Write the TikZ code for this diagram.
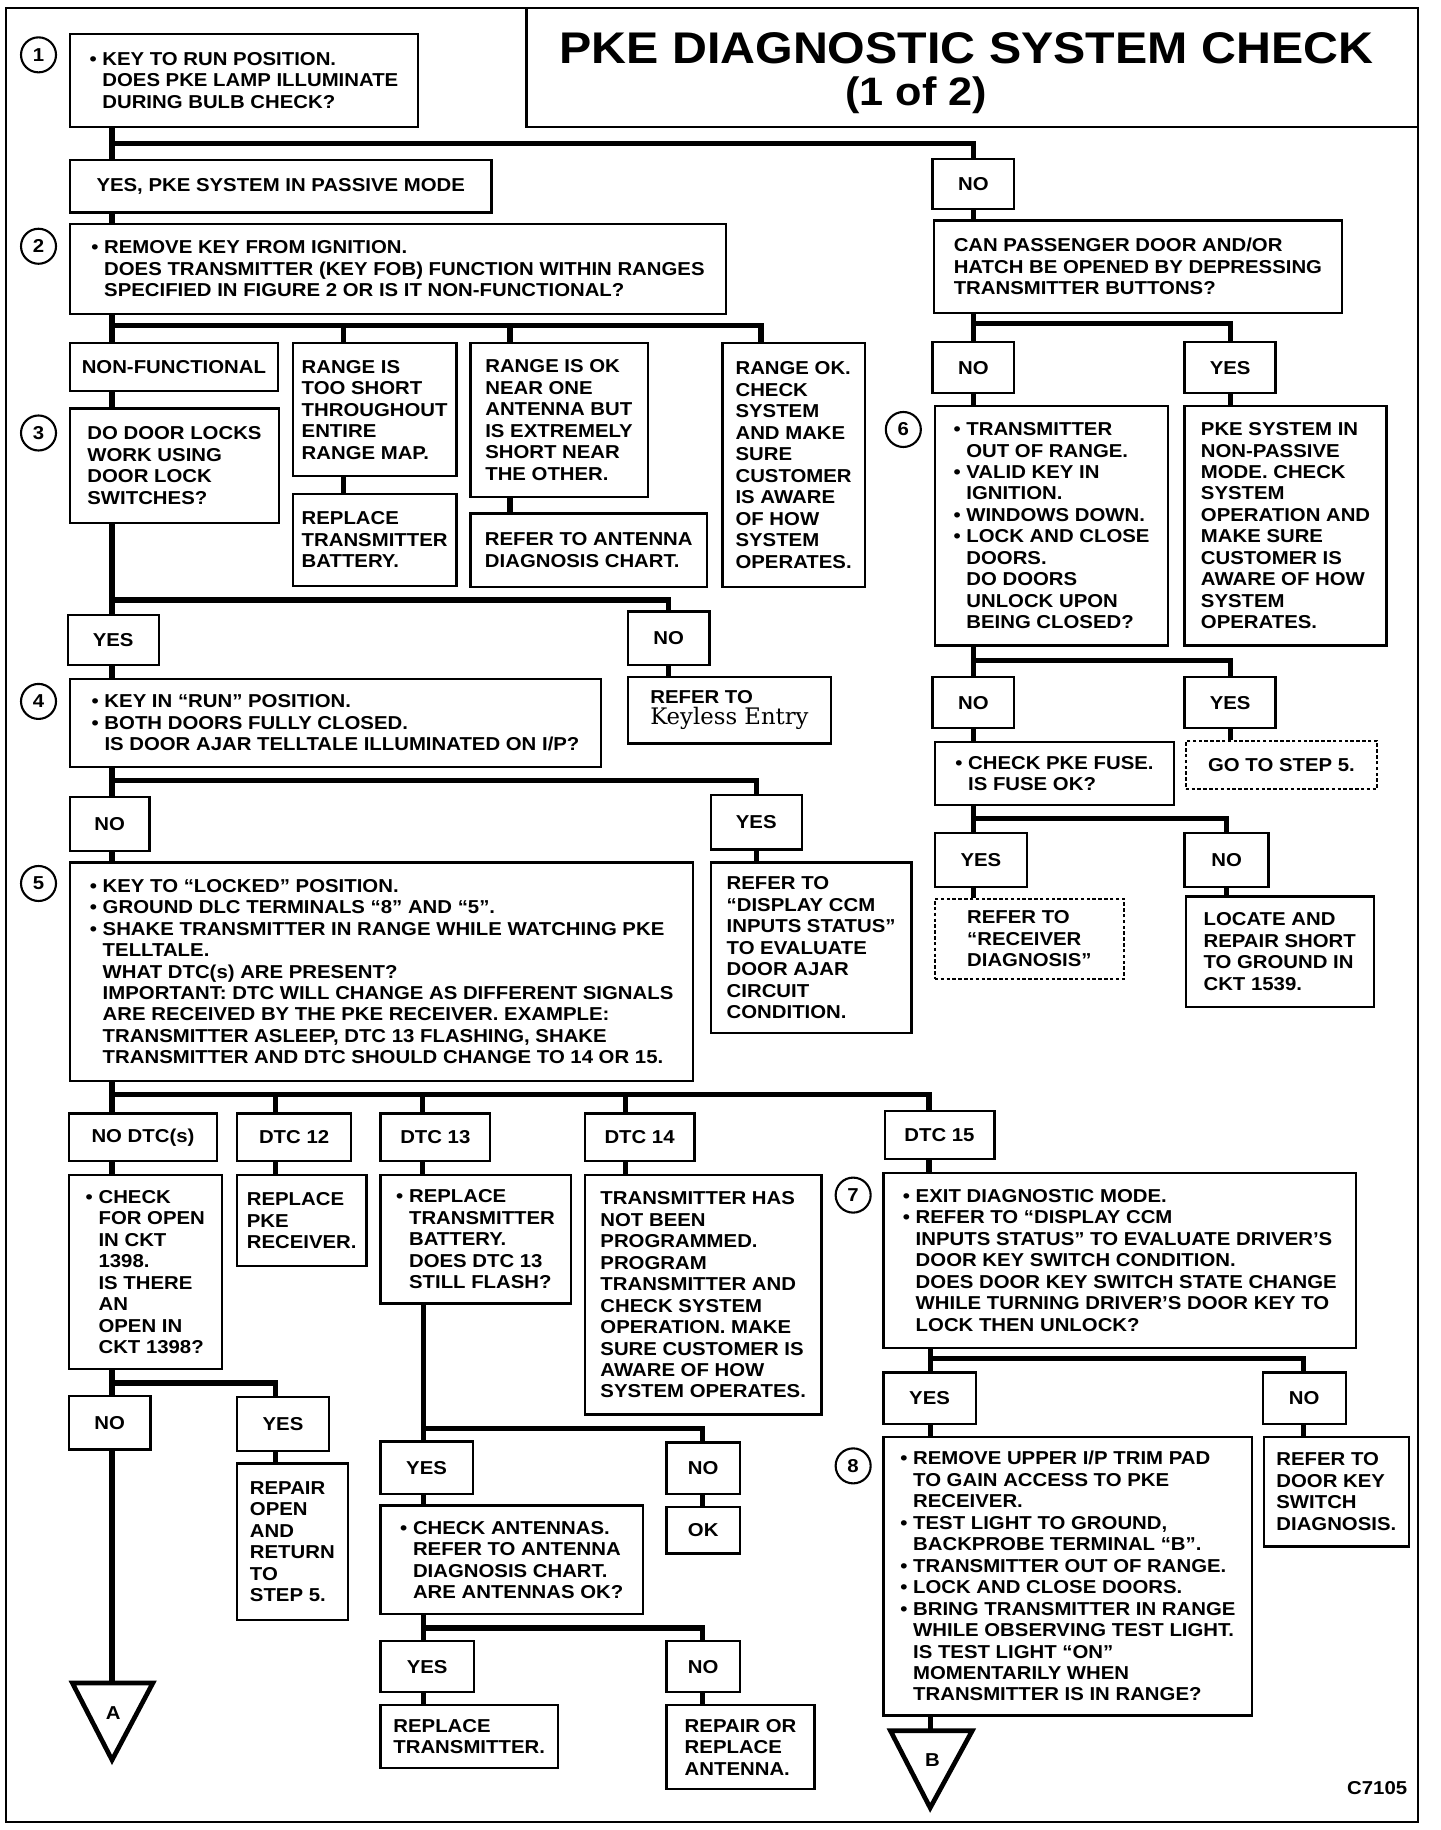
\documentclass[tikz,border=0pt]{standalone}
\usepackage{fontspec}
\setmainfont{Liberation Sans}[FakeStretch=1.09]
\newfontfamily\serifkey{DejaVu Serif}
\newcommand{\chartfont}{\fontsize{16}{18.4}\selectfont\bfseries}
\newcommand{\bul}{\makebox[11pt][l]{\textbullet}}
\newcommand{\ind}{\hspace*{11pt}}

\begin{document}
\begin{tikzpicture}[x=1pt, y=-1pt,
    box/.style={draw, line width=2pt, fill=white, align=left, inner sep=3pt, font=\chartfont},
    boxsize/.style 2 args={minimum width=#1pt, minimum height=#2pt},
    tag/.style={box, align=center},
    dashbox/.style={box, line width=1.5pt, dash pattern=on 3pt off 2pt},
    stepnum/.style={circle, draw, line width=1.8pt, minimum size=30pt, inner sep=0pt, font=\chartfont},
    link/.style={line width=4.5pt},
    tri/.style={line width=4pt, line join=miter},
    frame/.style={line width=2pt}]
\useasboundingbox (0,0) rectangle (1234,1568);

% frame and title
\draw[frame] (5,7) rectangle (1215,1561);
\draw[frame] (451,7) |- (1215,109);
\node[font=\fontsize{38}{40}\selectfont\bfseries] (title) at (828,41) {PKE DIAGNOSTIC SYSTEM CHECK};
\node[font=\fontsize{34}{36}\selectfont\bfseries] (part) at (785,82) {(1 of 2)};

% step numbers
\node[stepnum] (s1) at (33,47) {1};
\node[stepnum] (s2) at (33,211) {2};
\node[stepnum] (s3) at (33,371) {3};
\node[stepnum] (s4) at (33,601) {4};
\node[stepnum] (s5) at (33,757) {5};
\node[stepnum] (s6) at (774,368) {6};
\node[stepnum] (s7) at (731,1024) {7};
\node[stepnum] (s8) at (731,1256) {8};

% step 1 and 2
\node[box, boxsize={298}{80}] (q1) at (209,69) {\bul KEY TO RUN POSITION.\\\ind DOES PKE LAMP ILLUMINATE\\\ind DURING BULB CHECK?};
\node[tag, boxsize={361}{45}] (yespass) at (240.5,159.5) {YES, PKE SYSTEM IN PASSIVE MODE};
\node[tag, boxsize={70}{43}] (no1) at (834,157.5) {NO};
\node[box, boxsize={562}{77}] (q2) at (341,230.5) {\bul REMOVE KEY FROM IGNITION.\\\ind DOES TRANSMITTER (KEY FOB) FUNCTION WITHIN RANGES\\\ind SPECIFIED IN FIGURE 2 OR IS IT NON-FUNCTIONAL?};
\node[box, boxsize={350}{79}] (qpass) at (975,228.5) {CAN PASSENGER DOOR AND/OR\\HATCH BE OPENED BY DEPRESSING\\TRANSMITTER BUTTONS?};

\node[tag, boxsize={178}{41}] (nonfunc) at (149,314.5) {NON-FUNCTIONAL};
\node[box, boxsize={140}{114}] (rshort) at (321,351) {RANGE IS\\TOO SHORT\\THROUGHOUT\\ENTIRE\\RANGE MAP.};
\node[box, boxsize={152}{132}] (rnear) at (479,360) {RANGE IS OK\\NEAR ONE\\ANTENNA BUT\\IS EXTREMELY\\SHORT NEAR\\THE OTHER.};
\node[box, boxsize={122}{209}] (rok) at (680,398.5) {RANGE OK.\\CHECK\\SYSTEM\\AND MAKE\\SURE\\CUSTOMER\\IS AWARE\\OF HOW\\SYSTEM\\OPERATES.};
\node[box, boxsize={179}{98}] (q3) at (149.5,399) {DO DOOR LOCKS\\WORK USING\\DOOR LOCK\\SWITCHES?};
\node[box, boxsize={140}{79}] (repbat) at (321,462.5) {REPLACE\\TRANSMITTER\\BATTERY.};
\node[box, boxsize={203}{63}] (antchart) at (504.5,471.5) {REFER TO ANTENNA\\DIAGNOSIS CHART.};

% passive check column
\node[tag, boxsize={70}{44}] (no6) at (834,315) {NO};
\node[tag, boxsize={78}{44}] (yes6) at (1054,315) {YES};
\node[box, boxsize={200}{205}] (q6) at (901,450.5) {\bul TRANSMITTER\\\ind OUT OF RANGE.\\\bul VALID KEY IN\\\ind IGNITION.\\\bul WINDOWS DOWN.\\\bul LOCK AND CLOSE\\\ind DOORS.\\\ind DO DOORS\\\ind UNLOCK UPON\\\ind BEING CLOSED?};
\node[box, boxsize={173}{205}] (nonpass) at (1101.5,450.5) {PKE SYSTEM IN\\NON-PASSIVE\\MODE. CHECK\\SYSTEM\\OPERATION AND\\MAKE SURE\\CUSTOMER IS\\AWARE OF HOW\\SYSTEM\\OPERATES.};
\node[tag, boxsize={70}{44}] (nofuse) at (834,602) {NO};
\node[tag, boxsize={78}{44}] (yesfuse) at (1054,602) {YES};
\node[box, boxsize={205}{54}] (qfuse) at (903.5,663) {\bul CHECK PKE FUSE.\\\ind IS FUSE OK?};
\node[dashbox, boxsize={164}{41}] (gostep) at (1098,655.5) {GO TO STEP 5.};
\node[tag, boxsize={79}{46}] (yesok) at (840.5,737) {YES};
\node[tag, boxsize={72}{46}] (nook) at (1051,737) {NO};
\node[dashbox, boxsize={162}{69}] (recdiag) at (882,804.5) {REFER TO\\“RECEIVER\\DIAGNOSIS”};
\node[box, boxsize={161}{95}] (short) at (1096.5,815.5) {LOCATE AND\\REPAIR SHORT\\TO GROUND IN\\CKT 1539.};

% step 3 and 4
\node[tag, boxsize={78}{43}] (yes3) at (97,548.5) {YES};
\node[tag, boxsize={70}{46}] (no3) at (573,547) {NO};
\node[box, boxsize={174}{57}] (keyless) at (625,608.5) {REFER TO\\{\serifkey\mdseries\fontsize{19.5}{21}\selectfont Keyless Entry}};
\node[box, boxsize={455}{75}] (q4) at (287.5,619.5) {\bul KEY IN “RUN” POSITION.\\\bul BOTH DOORS FULLY CLOSED.\\\ind IS DOOR AJAR TELLTALE ILLUMINATED ON I/P?};
\node[tag, boxsize={68}{46}] (no4) at (94,706) {NO};
\node[tag, boxsize={78}{47}] (yes4) at (648,704.5) {YES};
\node[box, boxsize={534}{187}] (q5) at (327,832.5) {\bul KEY TO “LOCKED” POSITION.\\\bul GROUND DLC TERMINALS “8” AND “5”.\\\bul SHAKE TRANSMITTER IN RANGE WHILE WATCHING PKE\\\ind TELLTALE.\\\ind WHAT DTC(s) ARE PRESENT?\\\ind IMPORTANT: DTC WILL CHANGE AS DIFFERENT SIGNALS\\\ind ARE RECEIVED BY THE PKE RECEIVER. EXAMPLE:\\\ind TRANSMITTER ASLEEP, DTC 13 FLASHING, SHAKE\\\ind TRANSMITTER AND DTC SHOULD CHANGE TO 14 OR 15.};
\node[box, boxsize={172}{146}] (ccm) at (695,812) {REFER TO\\“DISPLAY CCM\\INPUTS STATUS”\\TO EVALUATE\\DOOR AJAR\\CIRCUIT\\CONDITION.};

% step 5 results
\node[tag, boxsize={127}{41}] (nodtc) at (122.5,974.5) {NO DTC(s)};
\node[tag, boxsize={98}{41}] (dtc12) at (252,974.5) {DTC 12};
\node[tag, boxsize={94}{41}] (dtc13) at (373,974.5) {DTC 13};
\node[tag, boxsize={94}{41}] (dtc14) at (548,974.5) {DTC 14};
\node[tag, boxsize={94}{41}] (dtc15) at (805,972.5) {DTC 15};
\node[box, boxsize={131}{166}] (ckt) at (124.5,1090) {\bul CHECK\\\ind FOR OPEN\\\ind IN CKT\\\ind 1398.\\\ind IS THERE\\\ind AN\\\ind OPEN IN\\\ind CKT 1398?};
\node[box, boxsize={111}{78}] (recv) at (258.5,1046) {REPLACE\\PKE\\RECEIVER.};
\node[box, boxsize={163}{110}] (flash) at (407.5,1062) {\bul REPLACE\\\ind TRANSMITTER\\\ind BATTERY.\\\ind DOES DTC 13\\\ind STILL FLASH?};
\node[box, boxsize={203}{205}] (prog) at (602.5,1109.5) {TRANSMITTER HAS\\NOT BEEN\\PROGRAMMED.\\PROGRAM\\TRANSMITTER AND\\CHECK SYSTEM\\OPERATION. MAKE\\SURE CUSTOMER IS\\AWARE OF HOW\\SYSTEM OPERATES.};
\node[box, boxsize={405}{150}] (q7) at (959.5,1080) {\bul EXIT DIAGNOSTIC MODE.\\\bul REFER TO “DISPLAY CCM\\\ind INPUTS STATUS” TO EVALUATE DRIVER’S\\\ind DOOR KEY SWITCH CONDITION.\\\ind DOES DOOR KEY SWITCH STATE CHANGE\\\ind WHILE TURNING DRIVER’S DOOR KEY TO\\\ind LOCK THEN UNLOCK?};

\node[tag, boxsize={70}{46}] (nockt) at (94,1219) {NO};
\node[tag, boxsize={79}{46}] (yesckt) at (242.5,1220) {YES};
\node[box, boxsize={95}{134}] (repopen) at (250.5,1321) {REPAIR\\OPEN\\AND\\RETURN\\TO\\STEP 5.};
\node[tag, boxsize={79}{45}] (yes13) at (365.5,1257.5) {YES};
\node[tag, boxsize={63}{44}] (no13) at (602.5,1258) {NO};
\node[tag, boxsize={63}{40}] (ok13) at (602.5,1311) {OK};
\node[box, boxsize={225}{93}] (ant) at (438.5,1336.5) {\bul CHECK ANTENNAS.\\\ind REFER TO ANTENNA\\\ind DIAGNOSIS CHART.\\\ind ARE ANTENNAS OK?};
\node[tag, boxsize={80}{44}] (yesant) at (366,1428) {YES};
\node[tag, boxsize={63}{44}] (noant) at (602.5,1428) {NO};
\node[box, boxsize={152}{54}] (reptx) at (402,1488) {REPLACE\\TRANSMITTER.};
\node[box, boxsize={127}{72}] (repant) at (634.5,1497) {REPAIR OR\\REPLACE\\ANTENNA.};

\node[tag, boxsize={79}{44}] (yes7) at (796.5,1198) {YES};
\node[tag, boxsize={71}{44}] (no7) at (1117.5,1198) {NO};
\node[box, boxsize={316}{239}] (q8) at (915,1350.5) {\bul REMOVE UPPER I/P TRIM PAD\\\ind TO GAIN ACCESS TO PKE\\\ind RECEIVER.\\\bul TEST LIGHT TO GROUND,\\\ind BACKPROBE TERMINAL “B”.\\\bul TRANSMITTER OUT OF RANGE.\\\bul LOCK AND CLOSE DOORS.\\\bul BRING TRANSMITTER IN RANGE\\\ind WHILE OBSERVING TEST LIGHT.\\\ind IS TEST LIGHT “ON”\\\ind MOMENTARILY WHEN\\\ind TRANSMITTER IS IN RANGE?};
\node[box, boxsize={124}{94}] (doorkey) at (1145,1278) {REFER TO\\DOOR KEY\\SWITCH\\DIAGNOSIS.};

% off-page connectors
\coordinate (triAtop) at (96,1442);
\draw[tri] (62,1442) -- (131,1442) -- (96,1508) -- cycle;
\node[font=\chartfont] (triA) at (97,1468) {A};
\coordinate (triBtop) at (797,1483);
\draw[tri] (763,1483) -- (833,1483) -- (797,1549) -- cycle;
\node[font=\chartfont] (triB) at (799,1508) {B};
\node[font=\chartfont] (code) at (1180,1532) {C7105};

% fork points
\coordinate (f1) at (96,123);
\coordinate (f2) at (96,279);
\coordinate (f3) at (96,514);
\coordinate (f4) at (96,669);
\coordinate (f5) at (96,938);
\coordinate (fckt) at (96,1185);
\coordinate (fflash) at (363,1224);
\coordinate (fant) at (363,1395);
\coordinate (f7) at (797,1164);
\coordinate (fpass) at (834,277);
\coordinate (f6) at (834,566);
\coordinate (ffuse) at (834,701);

% step 1
\draw[link] (q1.south -| f1) -- (yespass.north -| f1);
\draw[link] (no1.north) |- (f1);
\draw[link] (yespass.south -| f1) -- (q2.north -| f1);
\draw[link] (no1.south) -- (qpass.north -| no1);
% step 2
\draw[link] (q2.south -| f2) -- (nonfunc.north -| f2);
\draw[link] ([xshift=44pt]rshort.north west) |- (f2);
\draw[link] ([xshift=35pt]rnear.north west) |- (f2);
\draw[link] ([xshift=34pt]rok.north west) |- (f2);
\draw[link] (nonfunc.south -| f2) -- (q3.north -| f2);
\draw[link] ([xshift=44pt]rshort.south west) -- ([xshift=44pt]repbat.north west);
\draw[link] ([xshift=35pt]rnear.south west) -- ([xshift=35pt]antchart.north west);
% step 3
\draw[link] (q3.south -| f3) -- (yes3.north -| f3);
\draw[link] (no3.north) |- (f3);
\draw[link] (yes3.south -| f3) -- (q4.north -| f3);
\draw[link] (no3.south) -- (keyless.north -| no3);
% step 4
\draw[link] (q4.south -| f4) -- (no4.north -| f4);
\draw[link] (yes4.north) |- (f4);
\draw[link] (no4.south -| f4) -- (q5.north -| f4);
\draw[link] (yes4.south) -- (ccm.north -| yes4);
% step 5
\draw[link] (q5.south -| f5) -- (nodtc.north -| f5);
\foreach \d/\dx in {dtc12/34, dtc13/37, dtc14/36, dtc15/39}
  \draw[link] ([xshift=\dx pt]\d.north west) |- (f5);
\draw[link] (nodtc.south -| f5) -- (ckt.north -| f5);
\draw[link] ([xshift=34pt]dtc12.south west) -- ([xshift=34pt]recv.north west);
\draw[link] ([xshift=37pt]dtc13.south west) -- ([xshift=37pt]flash.north west);
\draw[link] ([xshift=36pt]dtc14.south west) -- ([xshift=36pt]prog.north west);
\draw[link] ([xshift=39pt]dtc15.south west) -- ([xshift=40pt]q7.north west);
% no dtc
\draw[link] (ckt.south -| fckt) -- (nockt.north -| fckt);
\draw[link] ([xshift=34pt]yesckt.north west) |- (fckt);
\draw[link] ([xshift=34pt]yesckt.south west) -- ([xshift=34pt]repopen.north west);
\draw[link] (nockt.south -| fckt) -- (triAtop);
% dtc 13
\draw[link] (flash.south -| fflash) -- (yes13.north -| fflash);
\draw[link] ([xshift=32pt]no13.north west) |- (fflash);
\draw[link] ([xshift=32pt]no13.south west) -- ([xshift=32pt]ok13.north west);
\draw[link] (yes13.south -| fflash) -- (ant.north -| fflash);
\draw[link] (ant.south -| fant) -- (yesant.north -| fant);
\draw[link] ([xshift=32pt]noant.north west) |- (fant);
\draw[link] (yesant.south -| fant) -- (reptx.north -| fant);
\draw[link] ([xshift=32pt]noant.south west) -- ([xshift=32pt]repant.north west);
% step 7 and 8
\draw[link] (q7.south -| f7) -- (yes7.north -| f7);
\draw[link] ([xshift=36pt]no7.north west) |- (f7);
\draw[link] (yes7.south -| f7) -- (q8.north -| f7);
\draw[link] ([xshift=36pt]no7.south west) -- ([xshift=35pt]doorkey.north west);
\draw[link] (q8.south -| f7) -- (triBtop);
% passive check
\draw[link] (qpass.south -| fpass) -- (no6.north -| fpass);
\draw[link] (yes6.north) |- (fpass);
\draw[link] (no6.south -| fpass) -- (q6.north -| fpass);
\draw[link] (yes6.south) -- (nonpass.north -| yes6);
\draw[link] (q6.south -| f6) -- (nofuse.north -| f6);
\draw[link] (yesfuse.north) |- (f6);
\draw[link] (nofuse.south -| f6) -- (qfuse.north -| f6);
\draw[link] (yesfuse.south) -- (gostep.north -| yesfuse);
\draw[link] (qfuse.south -| ffuse) -- (yesok.north -| ffuse);
\draw[link] (nook.north) |- (ffuse);
\draw[link] (yesok.south -| ffuse) -- (recdiag.north -| ffuse);
\draw[link] (nook.south) -- (short.north -| nook);
\end{tikzpicture}
\end{document}
